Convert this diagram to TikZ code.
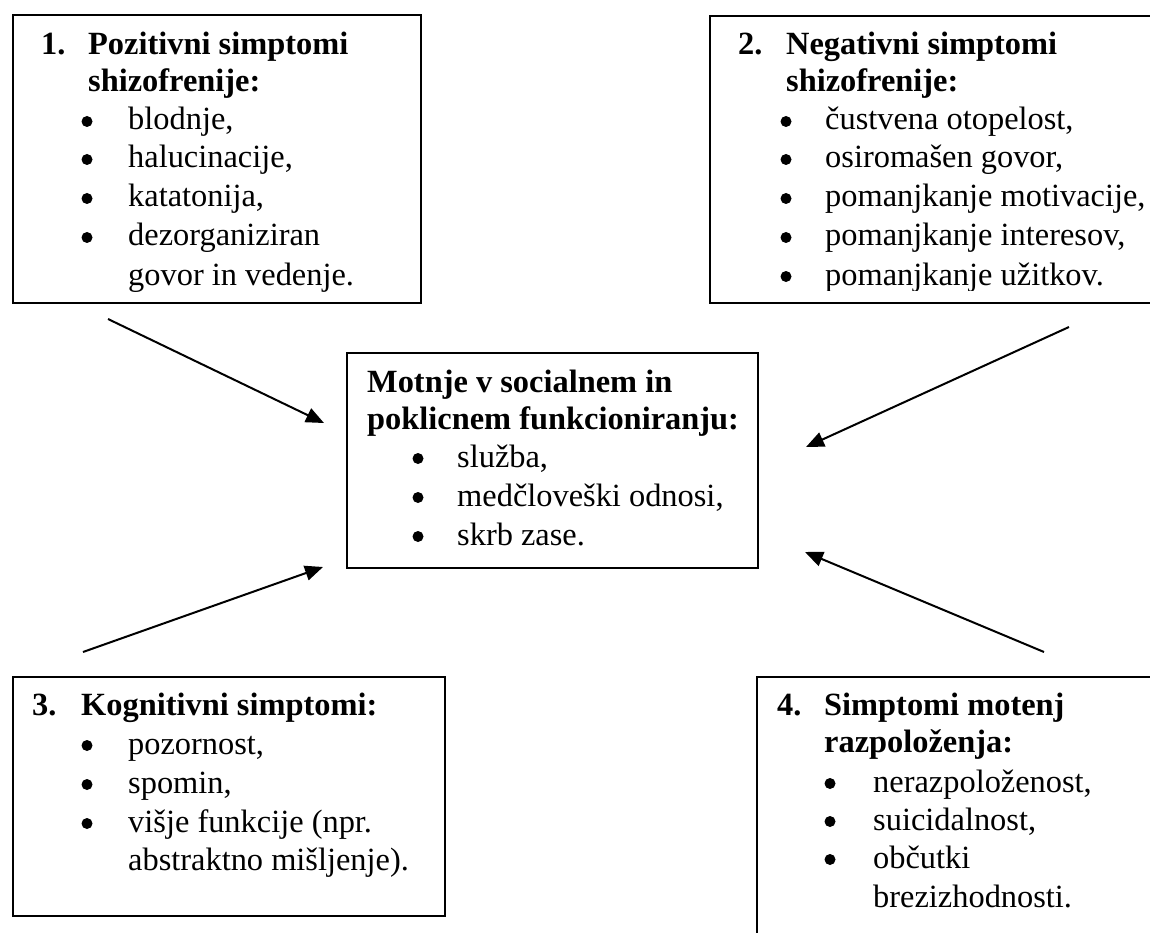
\documentclass[tikz,border=0pt]{standalone}
\usepackage{fontspec}
\setmainfont{Liberation Serif}
\usetikzlibrary{arrows.meta}
\begin{document}
\begin{tikzpicture}[x=1pt,y=-1pt,
  box/.style={draw, line width=2pt, inner sep=0, anchor=north west},
  head/.style={anchor=base west, inner sep=0, font=\fontsize{32.4}{38.5}\selectfont\bfseries},
  item/.style={anchor=base west, inner sep=0, font=\fontsize{32.4}{38.5}\selectfont},
  bul/.style={circle, fill, inner sep=0, minimum size=11pt},
  arr/.style={line width=2pt, -{Triangle[length=18pt,width=15pt]}}]
\useasboundingbox (0,0) rectangle (1150,933);
% boxes
\node[box, minimum width=408pt, minimum height=288pt] (B1) at (12,14) {};
\node[box, minimum width=460pt, minimum height=287pt] (B2) at (709,15) {};
\node[box, minimum width=411pt, minimum height=215pt] (BC) at (346,352) {};
\node[box, minimum width=432pt, minimum height=239pt] (B3) at (12,676) {};
\node[box, minimum width=420pt, minimum height=290pt] (B4) at (756,676) {};
% box 1
\node[head] (h1n) at (41,55) {1.};
\node[head] (h1a) at (88,55) {Pozitivni simptomi};
\node[head] (h1b) at (88,92) {shizofrenije:};
\foreach \y/\n in {130/a,168/b,207/c,246/d}{\node[bul] (p1\n) at (87,\y-8.5) {};}
\node[item] (i1a) at (128,130) {blodnje,};
\node[item] (i1b) at (128,168) {halucinacije,};
\node[item] (i1c) at (128,207) {katatonija,};
\node[item] (i1d) at (128,246) {dezorganiziran};
\node[item] (i1e) at (128,285) {govor in vedenje.};
% box 2
\node[head] (h2n) at (738,55) {2.};
\node[head] (h2a) at (786,55) {Negativni simptomi};
\node[head] (h2b) at (786,92) {shizofrenije:};
\foreach \y/\n in {130/a,168/b,207/c,246/d,285/e}{\node[bul] (p2\n) at (786,\y-8.5) {};}
\node[item] (i2a) at (825,130) {čustvena otopelost,};
\node[item] (i2b) at (825,168) {osiromašen govor,};
\node[item] (i2c) at (825,207) {pomanjkanje motivacije,};
\node[item] (i2d) at (825,246) {pomanjkanje interesov,};
\begin{scope}
\clip (700,250) rectangle (1150,290);
\node[item] (i2e) at (825,285) {pomanjkanje užitkov.};
\end{scope}
% centre
\node[head] (hca) at (367,392) {Motnje v socialnem in};
\node[head] (hcb) at (367,429) {poklicnem funkcioniranju:};
\foreach \y/\n in {467/a,506/b,545/c}{\node[bul] (pc\n) at (418,\y-8.5) {};}
\node[item] (ica) at (457,467) {služba,};
\node[item] (icb) at (457,506) {medčloveški odnosi,};
\node[item] (icc) at (457,545) {skrb zase.};
% box 3
\node[head] (h3n) at (32,715) {3.};
\node[head] (h3a) at (81,715) {Kognitivni simptomi:};
\foreach \y/\n in {754/a,793/b,832/c}{\node[bul] (p3\n) at (87,\y-8.5) {};}
\node[item] (i3a) at (128,754) {pozornost,};
\node[item] (i3b) at (128,793) {spomin,};
\node[item] (i3c) at (128,832) {višje funkcije (npr.};
\node[item] (i3d) at (128,870) {abstraktno mišljenje).};
% box 4
\node[head] (h4n) at (777,715) {4.};
\node[head] (h4a) at (824,715) {Simptomi motenj};
\node[head] (h4b) at (824,752) {razpoloženja:};
\foreach \y/\n in {792/a,830/b,868/c}{\node[bul] (p4\n) at (830,\y-8.5) {};}
\node[item] (i4a) at (873,792) {nerazpoloženost,};
\node[item] (i4b) at (873,830) {suicidalnost,};
\node[item] (i4c) at (873,868) {občutki};
\node[item] (i4d) at (873,907) {brezizhodnosti.};
% arrows
\coordinate (a1s) at (108,319); \coordinate (a1e) at (324,423);
\coordinate (a2s) at (1069,327); \coordinate (a2e) at (806,447);
\coordinate (a3s) at (83,652); \coordinate (a3e) at (323,567);
\coordinate (a4s) at (1044,652); \coordinate (a4e) at (805,552);
\draw[arr] (a1s) -- (a1e);
\draw[arr] (a2s) -- (a2e);
\draw[arr] (a3s) -- (a3e);
\draw[arr] (a4s) -- (a4e);
\end{tikzpicture}
\end{document}
